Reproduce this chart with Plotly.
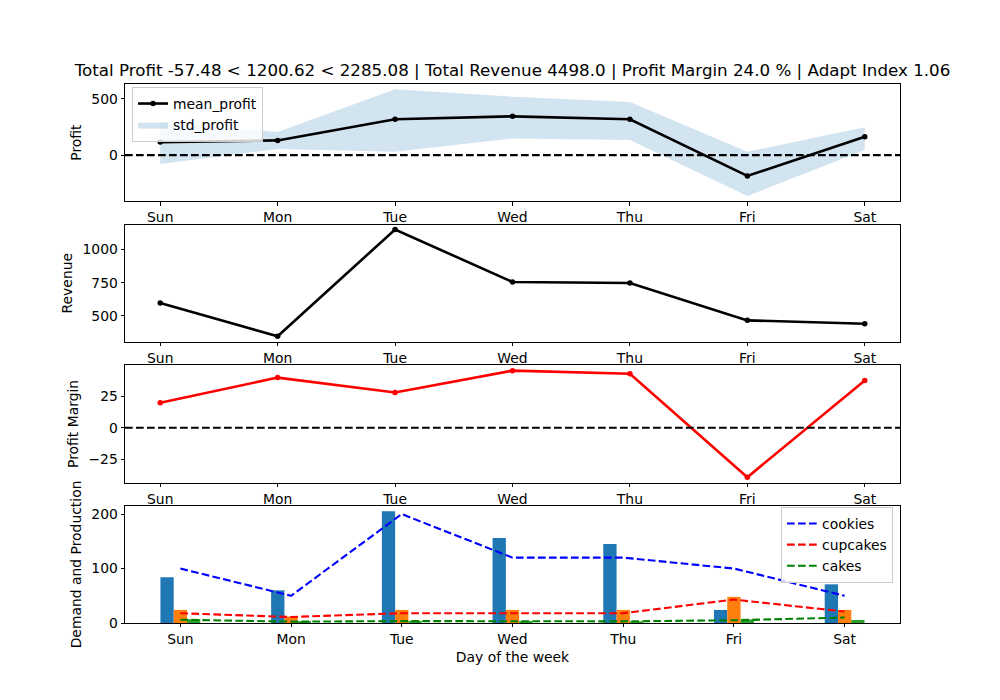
import plotly.graph_objects as go

days = ["Sun", "Mon", "Tue", "Wed", "Thu", "Fri", "Sat"]
x_idx = list(range(len(days)))

mean_profit = [116, 131, 319, 345, 319, -185, 164]
profit_upper = [300, 205, 586, 520, 473, 30, 247]
profit_lower = [-80, 54, 30, 149, 134, -363, 45]

revenue = [596, 345, 1152, 755, 748, 465, 440]
profit_margin = [19.7, 39.5, 27.8, 45.0, 42.5, -39.0, 37.2]

demand_cookies = [100, 50, 200, 120, 120, 100, 50]
demand_cupcakes = [18, 11, 18, 18, 18, 43, 21]
demand_cakes = [6, 2.5, 3.5, 3.5, 3, 5, 10]

prod_cookies = [84, 60, 205, 156, 145, 24, 71]
prod_cupcakes = [24, 12, 24, 24, 24, 48, 24]
prod_cakes = [7, 3.5, 4, 3.5, 3, 6.5, 5.5]

title_text = ("Total Profit -57.48 < 1200.62 < 2285.08 | Total Revenue 4498.0 | "
              "Profit Margin 24.0 % | Adapt Index 1.06")

FONT = "DejaVu Sans"
FS = 13.9
DASH = "7.7px,3.3px"

fig = go.Figure()

# --- Profit subplot ---
fig.add_trace(go.Scatter(x=x_idx, y=profit_lower, mode="lines", line=dict(width=0),
                         showlegend=False, hoverinfo="skip", xaxis="x", yaxis="y"))
fig.add_trace(go.Scatter(x=x_idx, y=profit_upper, mode="lines", line=dict(width=0),
                         fill="tonexty", fillcolor="rgba(31,119,180,0.2)",
                         name="std_profit", legend="legend", legendrank=2,
                         xaxis="x", yaxis="y"))
fig.add_trace(go.Scatter(x=x_idx, y=mean_profit, mode="lines+markers",
                         line=dict(color="black", width=2.6),
                         marker=dict(color="black", size=5.5),
                         name="mean_profit", legend="legend", legendrank=1,
                         xaxis="x", yaxis="y"))

# --- Revenue subplot ---
fig.add_trace(go.Scatter(x=x_idx, y=revenue, mode="lines+markers",
                         line=dict(color="black", width=2.6),
                         marker=dict(color="black", size=5.5),
                         showlegend=False, xaxis="x2", yaxis="y2"))

# --- Profit margin subplot ---
fig.add_trace(go.Scatter(x=x_idx, y=profit_margin, mode="lines+markers",
                         line=dict(color="red", width=2.6),
                         marker=dict(color="red", size=5.5),
                         showlegend=False, xaxis="x3", yaxis="y3"))

# --- Demand and production subplot ---
bar_colors = ["#1f77b4", "#ff7f0e", "#2ca02c"]
for vals, col in zip([prod_cookies, prod_cupcakes, prod_cakes], bar_colors):
    fig.add_trace(go.Bar(x=x_idx, y=vals, marker=dict(color=col, line=dict(width=0)),
                         showlegend=False, xaxis="x4", yaxis="y4"))

for vals, col, name in zip([demand_cookies, demand_cupcakes, demand_cakes],
                           ["blue", "red", "green"],
                           ["cookies", "cupcakes", "cakes"]):
    fig.add_trace(go.Scatter(x=x_idx, y=vals, mode="lines",
                             line=dict(color=col, width=2.1, dash=DASH),
                             name=name, legend="legend2",
                             xaxis="x4", yaxis="y4"))

# zero lines
for yref, xref in [("y", "x"), ("y3", "x3")]:
    fig.add_shape(type="line", xref=f"{xref} domain", yref=yref, x0=0, x1=1, y0=0, y1=0,
                  line=dict(color="black", width=2.1, dash=DASH))

axis_common = dict(showline=True, mirror=True, linecolor="black", linewidth=0.8,
                   ticks="outside", ticklen=3.5, tickwidth=0.8, tickcolor="black",
                   showgrid=False, zeroline=False, automargin=False,
                   tickfont=dict(family=FONT, size=FS, color="black"))

H = 700.0
doms = [(84, 201.2), (224.6, 341.8), (365.3, 482.5), (505.9, 623)]
ydoms = [[1 - b / H, 1 - t / H] for t, b in doms]

xr_lines = [-0.3, 6.3]
xr_bars = [-0.5, 6.5]

layout = dict(
    template="none",
    width=1000, height=700, autosize=False,
    margin=dict(l=0, r=0, t=0, b=0, pad=0, autoexpand=False),
    paper_bgcolor="white", plot_bgcolor="white",
    font=dict(family=FONT, size=FS, color="black"),
    barmode="group", bargap=0.64, bargroupgap=0,
    title=dict(text=title_text, x=0.5125, xanchor="center", y=1 - 70 / H, yanchor="middle",
               font=dict(family=FONT, size=16.7, color="black")),
    legend=dict(x=0.132, y=1 - 87 / H, xanchor="left", yanchor="top", traceorder="normal",
                bgcolor="rgba(255,255,255,0.8)", bordercolor="#cccccc", borderwidth=1,
                font=dict(family=FONT, size=FS), tracegroupgap=0),
    legend2=dict(x=0.893, y=1 - 507 / H, xanchor="right", yanchor="top", traceorder="normal",
                 bgcolor="rgba(255,255,255,0.8)", bordercolor="#cccccc", borderwidth=1,
                 font=dict(family=FONT, size=FS), tracegroupgap=0),
    showlegend=True,
)

ylabels = ["Profit", "Revenue", "Profit Margin", "Demand and Production"]
yranges = [[-410, 633], [303, 1189], [-43.2, 49.2], [0, 215]]
ydticks = [500, 250, 25, 100]
for i in range(4):
    sfx = "" if i == 0 else str(i + 1)
    xa = dict(axis_common, domain=[0.125, 0.9], anchor=f"y{sfx}",
              tickmode="array", tickvals=x_idx, ticktext=days,
              range=xr_bars if i == 3 else xr_lines)
    if i == 3:
        xa["title"] = dict(text="Day of the week", font=dict(family=FONT, size=FS), standoff=6)
    ya = dict(axis_common, domain=ydoms[i], anchor=f"x{sfx}", range=yranges[i],
              tick0=0, dtick=ydticks[i],
              title=dict(text=ylabels[i], font=dict(family=FONT, size=FS), standoff=6))
    layout[f"xaxis{sfx}"] = xa
    layout[f"yaxis{sfx}"] = ya

fig.update_layout(**layout)
fig.write_html("out.html", config={"displayModeBar": False},
               post_script="document.body.style.margin='0';document.body.style.padding='0';")
